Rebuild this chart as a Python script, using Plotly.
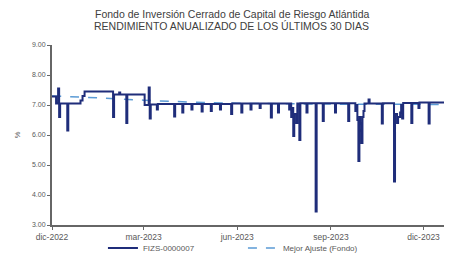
import plotly.graph_objects as go

# Fund series (step points)
fund_dates = [
    "2022-12-01", "2022-12-05", "2022-12-07", "2022-12-08", "2022-12-09",
    "2022-12-16", "2022-12-17", "2022-12-29", "2022-12-31", "2023-01-02",
    "2023-01-30", "2023-01-31", "2023-02-05", "2023-02-06", "2023-02-12", "2023-02-13",
    "2023-03-02", "2023-03-06", "2023-03-07", "2023-03-08",
    "2023-03-14", "2023-03-15", "2023-03-31", "2023-04-01", "2023-04-08", "2023-04-09",
    "2023-04-17", "2023-04-18", "2023-04-27", "2023-04-28", "2023-05-06", "2023-05-07",
    "2023-05-15", "2023-05-16", "2023-05-26", "2023-05-27", "2023-06-05", "2023-06-06",
    "2023-06-14", "2023-06-15", "2023-06-23", "2023-06-24",
    "2023-07-04", "2023-07-05", "2023-07-11", "2023-07-12",
    "2023-07-22", "2023-07-23", "2023-07-24", "2023-07-25", "2023-07-26", "2023-07-27",
    "2023-07-29", "2023-07-30", "2023-08-01", "2023-08-02",
    "2023-08-08", "2023-08-09", "2023-08-17", "2023-08-18", "2023-08-24", "2023-08-25",
    "2023-09-05", "2023-09-06", "2023-09-18", "2023-09-19",
    "2023-09-25", "2023-09-26", "2023-09-27", "2023-09-28", "2023-09-29", "2023-09-30",
    "2023-10-01", "2023-10-02", "2023-10-03", "2023-10-04", "2023-10-08", "2023-10-09",
    "2023-10-21", "2023-10-22", "2023-11-02", "2023-11-03", "2023-11-05", "2023-11-06",
    "2023-11-08", "2023-11-09", "2023-11-10", "2023-11-11", "2023-11-19", "2023-11-20",
    "2023-11-26", "2023-11-27", "2023-12-06", "2023-12-07", "2023-12-27",
]
fund_values = [
    7.28, 7.05, 7.55, 6.60, 7.05,
    6.15, 7.05, 7.15, 7.30, 7.45,
    6.60, 7.35, 7.42, 7.35, 6.40, 7.35,
    7.00, 7.58, 6.55, 7.02,
    6.85, 7.03, 6.62, 7.03, 6.75, 7.03,
    6.85, 7.03, 6.78, 7.03, 6.80, 7.03,
    6.85, 7.03, 6.70, 7.05, 6.75, 7.05,
    6.85, 7.05, 6.90, 7.05,
    6.58, 7.05, 6.75, 7.05,
    6.85, 7.05, 6.60, 6.90, 5.97, 6.70,
    6.40, 7.05, 5.83, 7.06,
    6.75, 7.06, 3.45, 7.06, 6.47, 7.06,
    6.75, 7.06, 6.47, 7.06,
    6.80, 7.00, 6.50, 5.13, 6.60, 6.40,
    5.73, 6.60, 6.80, 7.05, 7.18, 7.05,
    6.38, 7.06, 4.45, 6.70, 6.40, 6.60,
    6.75, 7.00, 6.55, 7.07, 6.40, 7.07,
    6.90, 7.08, 6.38, 7.08, 7.08,
]

# Best fit (read at a few dates)
fit_dates = ["2022-12-01", "2023-01-15", "2023-03-01", "2023-04-15", "2023-06-01",
             "2023-09-01", "2023-12-27"]
fit_values = [7.30, 7.24, 7.16, 7.10, 7.06, 7.03, 7.02]

y_ticks = [3, 4, 5, 6, 7, 8, 9]
y_tick_text = ["3.00", "4.00", "5.00", "6.00", "7.00", "8.00", "9.00"]
x_ticks = ["2022-12-01", "2023-03-01", "2023-06-01", "2023-09-01", "2023-12-01"]
x_tick_text = ["dic-2022", "mar-2023", "jun-2023", "sep-2023", "dic-2023"]

title_line1 = "Fondo de Inversión Cerrado de Capital de Riesgo Atlántida"
title_line2 = "RENDIMIENTO ANUALIZADO DE LOS ÚLTIMOS 30 DIAS"

FONT = "Liberation Sans"
fig = go.Figure()
fig.add_trace(go.Scatter(
    x=fit_dates, y=fit_values, mode="lines", name="Mejor Ajuste (Fondo)",
    line=dict(color="#5b9bd5", width=1.5, dash="dash", shape="spline"),
    legendrank=2,
))
fig.add_trace(go.Scatter(
    x=fund_dates, y=fund_values, mode="lines", name="FIZS-0000007",
    line=dict(color="#1f2d7a", width=2, shape="hv"),
    legendrank=1,
))

fig.add_annotation(text=title_line1, xref="paper", yref="paper", x=0.452, y=1.172,
                   showarrow=False, xanchor="center", yanchor="middle",
                   font=dict(family=FONT, size=10.5, color="#404040"))
fig.add_annotation(text=title_line2, xref="paper", yref="paper", x=0.452, y=1.106,
                   showarrow=False, xanchor="center", yanchor="middle",
                   font=dict(family=FONT, size=10.5, color="#404040"))

fig.update_layout(
    width=444, height=253,
    margin=dict(l=44, r=2, t=37, b=36, autoexpand=False),
    paper_bgcolor="white", plot_bgcolor="white",
    font=dict(family=FONT, size=8, color="#595959"),
    showlegend=True,
    legend=dict(orientation="h", x=0.128, xanchor="left",
                yref="container", y=0.051, yanchor="middle",
                bgcolor="rgba(0,0,0,0)",
                font=dict(size=8, color="#595959"), traceorder="normal",
                entrywidth=95, entrywidthmode="pixels",
                tracegroupgap=0),
    xaxis=dict(
        range=["2022-12-01", "2023-12-27"],
        tickvals=x_ticks, ticktext=x_tick_text,
        tickfont=dict(size=8.5),
        showgrid=False, zeroline=False,
        showline=True, linecolor="#666666", linewidth=2,
        ticks="outside", ticklen=3, tickcolor="#666666",
    ),
    yaxis=dict(
        range=[3, 9],
        tickvals=y_ticks, ticktext=y_tick_text,
        tickfont=dict(size=7),
        showgrid=False, zeroline=False,
        showline=True, linecolor="#666666", linewidth=2,
        ticks="outside", ticklen=3, tickcolor="#666666",
        title=dict(text="%", standoff=10, font=dict(size=7.5)),
    ),
)

fig.write_html("out.html")
